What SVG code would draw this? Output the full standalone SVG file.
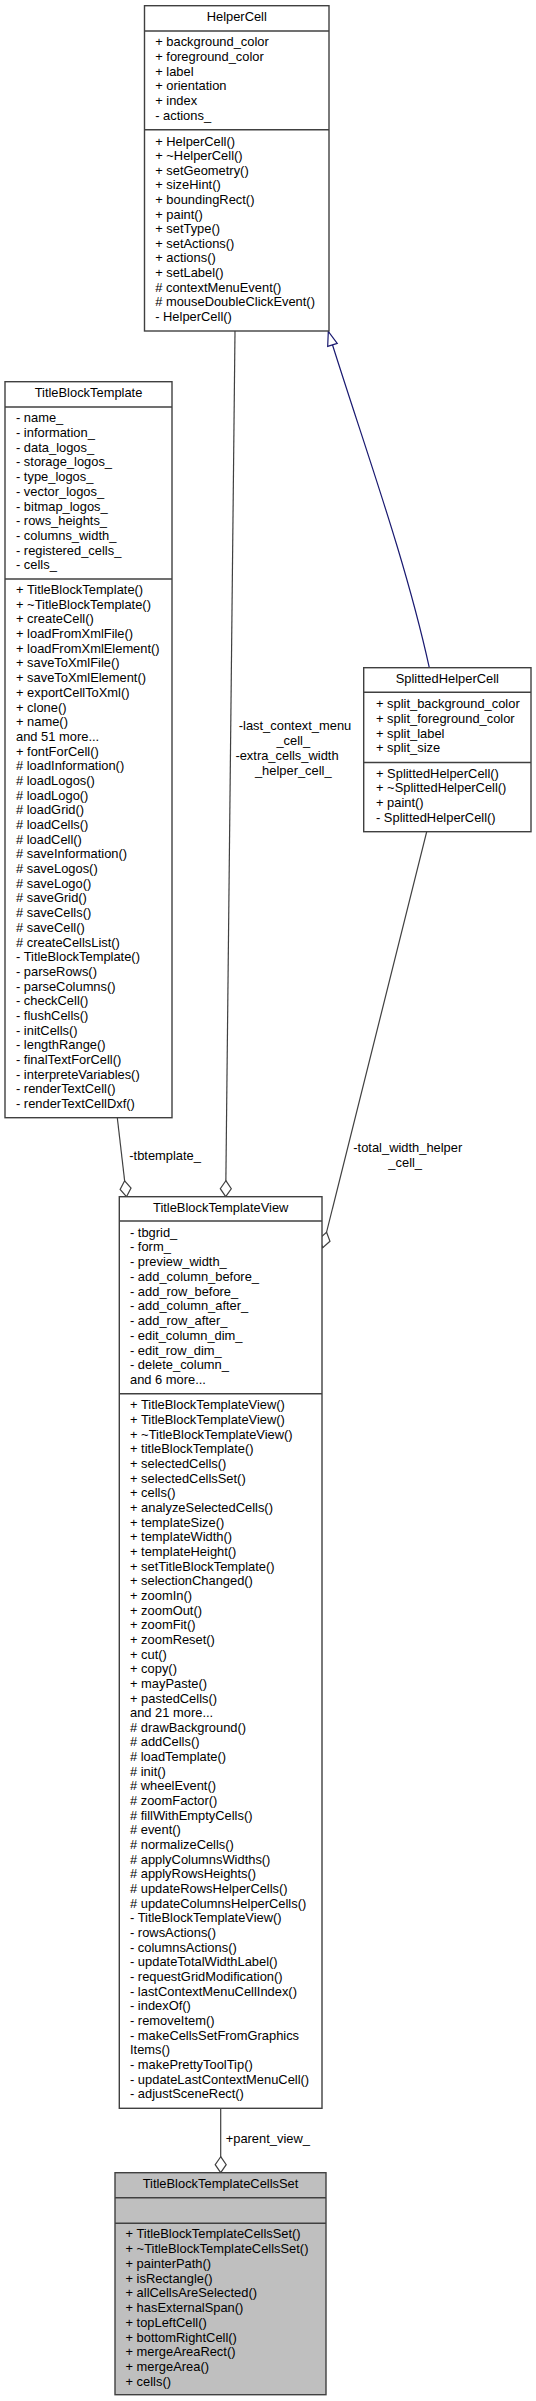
<svg xmlns="http://www.w3.org/2000/svg" width="536" height="2401" viewBox="0 0 536 2401">
<style>
text{font-family:"Liberation Sans",Arial,Helvetica,sans-serif;font-size:12.9px;fill:#000}
.t{text-anchor:middle}
.m{text-anchor:middle}
.box{fill:#fff;stroke:#404040;stroke-width:1.4}
.gray{fill:#bfbfbf}
.sep{stroke:#404040;stroke-width:1.4}
.agg{fill:none;stroke:#404040;stroke-width:1.2;marker-end:url(#dia)}
.inh{fill:none;stroke:#191970;stroke-width:1.2;marker-end:url(#tri)}
</style>
<defs>
<marker id="dia" markerUnits="userSpaceOnUse" markerWidth="20" markerHeight="14" viewBox="-1 -7 19 14" refX="16" refY="0" orient="auto">
<path d="M0,0 L8,-5.5 L16,0 L8,5.5 Z" fill="#fff" stroke="#404040" stroke-width="1.2"/>
</marker>
<marker id="tri" markerUnits="userSpaceOnUse" markerWidth="18" markerHeight="14" viewBox="-1 -7 17 14" refX="14" refY="0" orient="auto">
<path d="M0,-5 L14,0 L0,5 Z" fill="#fff" stroke="#191970" stroke-width="1.2"/>
</marker>
</defs>

<g id="connectors">
<path class="inh" d="M429.3,667.7 C404.7,555.7 363,443 328.3,331.5"/>
<path class="agg" d="M235,331 L225.7,1196.7"/>
<path class="agg" d="M117.3,1117.7 L126.5,1196.7"/>
<path class="agg" d="M426.7,831.7 L322.7,1247.7"/>
<path class="agg" d="M220.7,2108.3 L220.7,2172.7"/>
<text class="m" x="295" y="730">-last_context_menu</text>
<text class="m" x="293.3" y="745">_cell_</text>
<text class="m" x="287" y="760">-extra_cells_width</text>
<text class="m" x="293.3" y="775">_helper_cell_</text>
<text x="129.3" y="1160">-tbtemplate_</text>
<text class="m" x="407.8" y="1152.3">-total_width_helper</text>
<text class="m" x="405.2" y="1167.3">_cell_</text>
<text x="225.7" y="2143.3">+parent_view_</text>
</g>

<g id="HelperCell">
<rect class="box" x="144.5" y="5.7" width="184.5" height="325.3"/>
<line class="sep" x1="144.5" y1="31" x2="329" y2="31"/>
<line class="sep" x1="144.5" y1="129.7" x2="329" y2="129.7"/>
<text class="t" x="236.75" y="21">HelperCell</text>
<text x="155.2" y="46.3">+ background_color<tspan x="155.2" dy="14.65">+ foreground_color</tspan><tspan x="155.2" dy="14.65">+ label</tspan><tspan x="155.2" dy="14.65">+ orientation</tspan><tspan x="155.2" dy="14.65">+ index</tspan><tspan x="155.2" dy="14.65">- actions_</tspan></text>
<text x="155.2" y="145.6">+ HelperCell()<tspan x="155.2" dy="14.6">+ ~HelperCell()</tspan><tspan x="155.2" dy="14.6">+ setGeometry()</tspan><tspan x="155.2" dy="14.6">+ sizeHint()</tspan><tspan x="155.2" dy="14.6">+ boundingRect()</tspan><tspan x="155.2" dy="14.6">+ paint()</tspan><tspan x="155.2" dy="14.6">+ setType()</tspan><tspan x="155.2" dy="14.6">+ setActions()</tspan><tspan x="155.2" dy="14.6">+ actions()</tspan><tspan x="155.2" dy="14.6">+ setLabel()</tspan><tspan x="155.2" dy="14.6"># contextMenuEvent()</tspan><tspan x="155.2" dy="14.6"># mouseDoubleClickEvent()</tspan><tspan x="155.2" dy="14.6">- HelperCell()</tspan></text>
</g>

<g id="TitleBlockTemplate">
<rect class="box" x="5" y="381.7" width="167" height="736"/>
<line class="sep" x1="5" y1="407" x2="172" y2="407"/>
<line class="sep" x1="5" y1="579" x2="172" y2="579"/>
<text class="t" x="88.5" y="397.3">TitleBlockTemplate</text>
<text x="16" y="422.3">- name_<tspan x="16" dy="14.7">- information_</tspan><tspan x="16" dy="14.7">- data_logos_</tspan><tspan x="16" dy="14.7">- storage_logos_</tspan><tspan x="16" dy="14.7">- type_logos_</tspan><tspan x="16" dy="14.7">- vector_logos_</tspan><tspan x="16" dy="14.7">- bitmap_logos_</tspan><tspan x="16" dy="14.7">- rows_heights_</tspan><tspan x="16" dy="14.7">- columns_width_</tspan><tspan x="16" dy="14.7">- registered_cells_</tspan><tspan x="16" dy="14.7">- cells_</tspan></text>
<text x="16" y="594">+ TitleBlockTemplate()<tspan x="16" dy="14.69">+ ~TitleBlockTemplate()</tspan><tspan x="16" dy="14.69">+ createCell()</tspan><tspan x="16" dy="14.69">+ loadFromXmlFile()</tspan><tspan x="16" dy="14.69">+ loadFromXmlElement()</tspan><tspan x="16" dy="14.69">+ saveToXmlFile()</tspan><tspan x="16" dy="14.69">+ saveToXmlElement()</tspan><tspan x="16" dy="14.69">+ exportCellToXml()</tspan><tspan x="16" dy="14.69">+ clone()</tspan><tspan x="16" dy="14.69">+ name()</tspan><tspan x="16" dy="14.69">and 51 more...</tspan><tspan x="16" dy="14.69">+ fontForCell()</tspan><tspan x="16" dy="14.69"># loadInformation()</tspan><tspan x="16" dy="14.69"># loadLogos()</tspan><tspan x="16" dy="14.69"># loadLogo()</tspan><tspan x="16" dy="14.69"># loadGrid()</tspan><tspan x="16" dy="14.69"># loadCells()</tspan><tspan x="16" dy="14.69"># loadCell()</tspan><tspan x="16" dy="14.69"># saveInformation()</tspan><tspan x="16" dy="14.69"># saveLogos()</tspan><tspan x="16" dy="14.69"># saveLogo()</tspan><tspan x="16" dy="14.69"># saveGrid()</tspan><tspan x="16" dy="14.69"># saveCells()</tspan><tspan x="16" dy="14.69"># saveCell()</tspan><tspan x="16" dy="14.69"># createCellsList()</tspan><tspan x="16" dy="14.69">- TitleBlockTemplate()</tspan><tspan x="16" dy="14.69">- parseRows()</tspan><tspan x="16" dy="14.69">- parseColumns()</tspan><tspan x="16" dy="14.69">- checkCell()</tspan><tspan x="16" dy="14.69">- flushCells()</tspan><tspan x="16" dy="14.69">- initCells()</tspan><tspan x="16" dy="14.69">- lengthRange()</tspan><tspan x="16" dy="14.69">- finalTextForCell()</tspan><tspan x="16" dy="14.69">- interpreteVariables()</tspan><tspan x="16" dy="14.69">- renderTextCell()</tspan><tspan x="16" dy="14.69">- renderTextCellDxf()</tspan></text>
</g>

<g id="SplittedHelperCell">
<rect class="box" x="363.7" y="667.7" width="167.3" height="164"/>
<line class="sep" x1="363.7" y1="692.3" x2="531" y2="692.3"/>
<line class="sep" x1="363.7" y1="762.5" x2="531" y2="762.5"/>
<text class="t" x="447.3" y="683.3">SplittedHelperCell</text>
<text x="376" y="708.3">+ split_background_color<tspan x="376" dy="14.67">+ split_foreground_color</tspan><tspan x="376" dy="14.67">+ split_label</tspan><tspan x="376" dy="14.67">+ split_size</tspan></text>
<text x="376" y="777.6">+ SplittedHelperCell()<tspan x="376" dy="14.8">+ ~SplittedHelperCell()</tspan><tspan x="376" dy="14.8">+ paint()</tspan><tspan x="376" dy="14.8">- SplittedHelperCell()</tspan></text>
</g>

<g id="TitleBlockTemplateView">
<rect class="box" x="119.3" y="1196.7" width="202.7" height="911.6"/>
<line class="sep" x1="119.3" y1="1221" x2="322" y2="1221"/>
<line class="sep" x1="119.3" y1="1393.7" x2="322" y2="1393.7"/>
<text class="t" x="220.7" y="1211.6">TitleBlockTemplateView</text>
<text x="130" y="1236.6">- tbgrid_<tspan x="130" dy="14.74">- form_</tspan><tspan x="130" dy="14.74">- preview_width_</tspan><tspan x="130" dy="14.74">- add_column_before_</tspan><tspan x="130" dy="14.74">- add_row_before_</tspan><tspan x="130" dy="14.74">- add_column_after_</tspan><tspan x="130" dy="14.74">- add_row_after_</tspan><tspan x="130" dy="14.74">- edit_column_dim_</tspan><tspan x="130" dy="14.74">- edit_row_dim_</tspan><tspan x="130" dy="14.74">- delete_column_</tspan><tspan x="130" dy="14.74">and 6 more...</tspan></text>
<text x="130" y="1409.3">+ TitleBlockTemplateView()<tspan x="130" dy="14.66">+ TitleBlockTemplateView()</tspan><tspan x="130" dy="14.66">+ ~TitleBlockTemplateView()</tspan><tspan x="130" dy="14.66">+ titleBlockTemplate()</tspan><tspan x="130" dy="14.66">+ selectedCells()</tspan><tspan x="130" dy="14.66">+ selectedCellsSet()</tspan><tspan x="130" dy="14.66">+ cells()</tspan><tspan x="130" dy="14.66">+ analyzeSelectedCells()</tspan><tspan x="130" dy="14.66">+ templateSize()</tspan><tspan x="130" dy="14.66">+ templateWidth()</tspan><tspan x="130" dy="14.66">+ templateHeight()</tspan><tspan x="130" dy="14.66">+ setTitleBlockTemplate()</tspan><tspan x="130" dy="14.66">+ selectionChanged()</tspan><tspan x="130" dy="14.66">+ zoomIn()</tspan><tspan x="130" dy="14.66">+ zoomOut()</tspan><tspan x="130" dy="14.66">+ zoomFit()</tspan><tspan x="130" dy="14.66">+ zoomReset()</tspan><tspan x="130" dy="14.66">+ cut()</tspan><tspan x="130" dy="14.66">+ copy()</tspan><tspan x="130" dy="14.66">+ mayPaste()</tspan><tspan x="130" dy="14.66">+ pastedCells()</tspan><tspan x="130" dy="14.66">and 21 more...</tspan><tspan x="130" dy="14.66"># drawBackground()</tspan><tspan x="130" dy="14.66"># addCells()</tspan><tspan x="130" dy="14.66"># loadTemplate()</tspan><tspan x="130" dy="14.66"># init()</tspan><tspan x="130" dy="14.66"># wheelEvent()</tspan><tspan x="130" dy="14.66"># zoomFactor()</tspan><tspan x="130" dy="14.66"># fillWithEmptyCells()</tspan><tspan x="130" dy="14.66"># event()</tspan><tspan x="130" dy="14.66"># normalizeCells()</tspan><tspan x="130" dy="14.66"># applyColumnsWidths()</tspan><tspan x="130" dy="14.66"># applyRowsHeights()</tspan><tspan x="130" dy="14.66"># updateRowsHelperCells()</tspan><tspan x="130" dy="14.66"># updateColumnsHelperCells()</tspan><tspan x="130" dy="14.66">- TitleBlockTemplateView()</tspan><tspan x="130" dy="14.66">- rowsActions()</tspan><tspan x="130" dy="14.66">- columnsActions()</tspan><tspan x="130" dy="14.66">- updateTotalWidthLabel()</tspan><tspan x="130" dy="14.66">- requestGridModification()</tspan><tspan x="130" dy="14.66">- lastContextMenuCellIndex()</tspan><tspan x="130" dy="14.66">- indexOf()</tspan><tspan x="130" dy="14.66">- removeItem()</tspan><tspan x="130" dy="14.66">- makeCellsSetFromGraphics</tspan><tspan x="130" dy="14.66">Items()</tspan><tspan x="130" dy="14.66">- makePrettyToolTip()</tspan><tspan x="130" dy="14.66">- updateLastContextMenuCell()</tspan><tspan x="130" dy="14.66">- adjustSceneRect()</tspan></text>
</g>

<g id="TitleBlockTemplateCellsSet">
<rect class="box gray" x="115" y="2172.7" width="211" height="222"/>
<line class="sep" x1="115" y1="2197.7" x2="326" y2="2197.7"/>
<line class="sep" x1="115" y1="2223.3" x2="326" y2="2223.3"/>
<text class="t" x="220.5" y="2188.3">TitleBlockTemplateCellsSet</text>
<text x="125.5" y="2238.3">+ TitleBlockTemplateCellsSet()<tspan x="125.5" dy="14.77">+ ~TitleBlockTemplateCellsSet()</tspan><tspan x="125.5" dy="14.77">+ painterPath()</tspan><tspan x="125.5" dy="14.77">+ isRectangle()</tspan><tspan x="125.5" dy="14.77">+ allCellsAreSelected()</tspan><tspan x="125.5" dy="14.77">+ hasExternalSpan()</tspan><tspan x="125.5" dy="14.77">+ topLeftCell()</tspan><tspan x="125.5" dy="14.77">+ bottomRightCell()</tspan><tspan x="125.5" dy="14.77">+ mergeAreaRect()</tspan><tspan x="125.5" dy="14.77">+ mergeArea()</tspan><tspan x="125.5" dy="14.77">+ cells()</tspan></text>
</g>
</svg>
